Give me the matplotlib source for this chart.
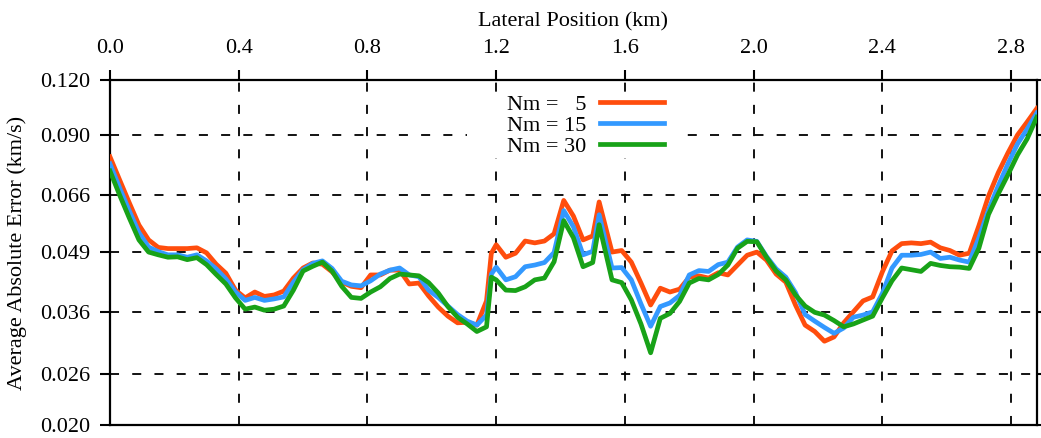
import matplotlib
matplotlib.use("Agg")
import matplotlib.pyplot as plt
from matplotlib.ticker import FixedLocator, FuncFormatter, NullLocator
from matplotlib.patches import Rectangle

plt.rcParams['font.family'] = ['Liberation Serif', 'DejaVu Serif']
plt.rcParams['lines.scale_dashes'] = False

# Lateral positions (km) shared by the three curves
position_km = [
    0.00, 0.03, 0.06, 0.09, 0.12, 0.15, 0.18, 0.21, 0.24, 0.27,
    0.30, 0.33, 0.36, 0.39, 0.42, 0.45, 0.48, 0.51, 0.54, 0.57,
    0.60, 0.63, 0.66, 0.69, 0.72, 0.75, 0.78, 0.81, 0.84, 0.87,
    0.90, 0.93, 0.96, 0.99, 1.02, 1.05, 1.08, 1.11, 1.14, 1.17, 1.185,
    1.20, 1.23, 1.26, 1.29, 1.32, 1.35, 1.38, 1.41, 1.44, 1.47,
    1.50, 1.52, 1.56, 1.59, 1.62, 1.65, 1.68, 1.71, 1.74, 1.77,
    1.80, 1.83, 1.86, 1.89, 1.92, 1.95, 1.98, 2.01, 2.04, 2.07,
    2.10, 2.13, 2.16, 2.19, 2.22, 2.25, 2.28, 2.31, 2.34, 2.37,
    2.40, 2.43, 2.46, 2.49, 2.52, 2.55, 2.58, 2.61, 2.64, 2.67,
    2.70, 2.73, 2.76, 2.79, 2.82, 2.85, 2.88,
]

# Average absolute error (km/s) for each number of models
err_nm5 = [
    .0805, .0714, .0634, .0565, .0523, .0503, .0500, .0500, .0500, .0502,
    .0489, .0461, .0440, .0403, .0387, .0399, .0390, .0393, .0401, .0429,
    .0452, .0464, .0461, .0443, .0420, .0411, .0408, .0436, .0436, .0447,
    .0447, .0416, .0418, .0391, .0369, .0352, .0340, .0341, .0336, .0381, .0488,
    .0510, .0478, .0488, .0520, .0515, .0520, .0540, .0642, .0592, .0523,
    .0534, .0637, .0491, .0495, .0466, .0418, .0373, .0407, .0399, .0405,
    .0431, .0434, .0429, .0441, .0436, .0459, .0483, .0491, .0471, .0438,
    .0420, .0373, .0336, .0325, .0309, .0316, .0340, .0360, .0381, .0389,
    .0443, .0494, .0513, .0515, .0513, .0517, .0502, .0495, .0483, .0488,
    .0563, .0657, .0741, .0821, .0902, .0965, .1035,
]
err_nm15 = [
    .0776, .0685, .0608, .0543, .0504, .0492, .0484, .0484, .0478, .0484,
    .0469, .0450, .0427, .0399, .0382, .0388, .0382, .0385, .0389, .0420,
    .0448, .0463, .0469, .0451, .0422, .0414, .0412, .0423, .0438, .0447,
    .0452, .0436, .0432, .0403, .0388, .0371, .0355, .0343, .0336, .0354, .0438,
    .0454, .0425, .0432, .0455, .0459, .0465, .0490, .0609, .0560, .0484,
    .0493, .0596, .0452, .0453, .0425, .0375, .0334, .0370, .0377, .0392,
    .0436, .0446, .0444, .0460, .0466, .0504, .0523, .0519, .0480, .0450,
    .0431, .0398, .0355, .0343, .0332, .0322, .0331, .0350, .0354, .0360,
    .0396, .0452, .0483, .0483, .0485, .0491, .0475, .0478, .0471, .0466,
    .0529, .0611, .0692, .0776, .0861, .0930, .1011,
]
err_nm30 = [
    .0748, .0660, .0586, .0523, .0491, .0484, .0478, .0479, .0472, .0477,
    .0460, .0437, .0416, .0387, .0365, .0369, .0363, .0365, .0371, .0403,
    .0445, .0456, .0466, .0445, .0411, .0388, .0386, .0399, .0410, .0428,
    .0438, .0436, .0434, .0419, .0397, .0370, .0350, .0338, .0325, .0333, .0431,
    .0425, .0403, .0402, .0410, .0425, .0429, .0467, .0578, .0529, .0455,
    .0465, .0566, .0425, .0419, .0383, .0338, .0291, .0348, .0357, .0380,
    .0418, .0428, .0425, .0437, .0459, .0501, .0519, .0518, .0478, .0445,
    .0425, .0393, .0371, .0359, .0354, .0344, .0333, .0338, .0345, .0352,
    .0387, .0423, .0452, .0448, .0444, .0463, .0458, .0455, .0454, .0451,
    .0501, .0597, .0664, .0733, .0813, .0884, .0989,
]

series_labels = ["Nm =   5", "Nm = 15", "Nm = 30"]
series_colors = ["#ff4d0d", "#3399ff", "#18a218"]

x_ticks = [0.0, 0.4, 0.8, 1.2, 1.6, 2.0, 2.4, 2.8]
y_ticks = [0.020, 0.026, 0.036, 0.049, 0.066, 0.090, 0.120]

FS = 16

fig = plt.figure(figsize=(10.41, 4.38), dpi=100)
ax = fig.add_axes([110 / 1041, 1 - 425 / 438, 927 / 1041, 345 / 438])

for values, label, color in zip([err_nm5, err_nm15, err_nm30], series_labels, series_colors):
    ax.plot(position_km, values, color=color, linewidth=3.4, label=label,
            solid_joinstyle='round', zorder=3)

ax.set_yscale('log')
ax.set_xlim(0.0, 2.8806)
ax.set_ylim(0.020, 0.120)

ax.xaxis.set_major_locator(FixedLocator(x_ticks))
ax.xaxis.set_major_formatter(FuncFormatter(lambda v, p: f"{v:.1f}"))
ax.yaxis.set_major_locator(FixedLocator(y_ticks))
ax.yaxis.set_major_formatter(FuncFormatter(lambda v, p: f"{v:.3f}"))
ax.yaxis.set_minor_locator(NullLocator())
ax.xaxis.set_minor_locator(NullLocator())

ax.xaxis.tick_top()
ax.xaxis.set_label_position('top')
ax.tick_params(axis='x', which='major', top=True, bottom=False, direction='out',
               length=7.5, width=1.5, pad=8, labelsize=FS)
ax.tick_params(axis='y', which='major', left=True, right=True, direction='out',
               length=7.5, width=1.5, pad=7, labelsize=FS)

for spine in ax.spines.values():
    spine.set_linewidth(1.6)

ax.grid(True, which='major', color='black', linestyle=(0, (6.5, 9.5)), linewidth=1.3)

ax.set_xlabel("Lateral Position (km)", fontsize=FS, labelpad=9)
ax.set_ylabel("Average Absolute Error (km/s)", fontsize=FS, labelpad=9)

# white key box sitting over the grid
ax.add_patch(Rectangle((0.385, 0.774), 0.23, 0.191, transform=ax.transAxes,
                       facecolor='white', edgecolor='none', zorder=2))

leg = ax.legend(loc='upper right', bbox_to_anchor=(0.598, 0.958), frameon=False,
                markerfirst=False, handlelength=2.88, handletextpad=0.63,
                labelspacing=0.02, borderaxespad=0, borderpad=0, fontsize=FS)
leg.set_zorder(5)

fig.savefig("out.png", dpi=100)
